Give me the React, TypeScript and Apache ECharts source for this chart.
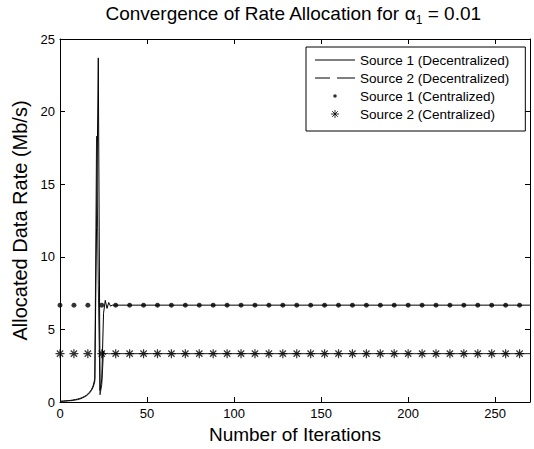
import React, { useEffect, useRef } from "react";
import * as echarts from "echarts";

// ---- data ----
const iterations = [
  0, 1, 2, 3, 4, 5, 6, 7, 8, 9, 10, 11, 12, 13, 14, 15, 16, 17, 18, 19, 20,
  21, 22, 23, 24, 25, 26, 27, 28, 29, 30, 270,
];
const source1Decentralized = [
  0.05, 0.06, 0.07, 0.08, 0.09, 0.1, 0.11, 0.13, 0.15, 0.17, 0.2, 0.23, 0.27,
  0.32, 0.38, 0.45, 0.55, 0.68, 0.85, 1.1, 1.6, 12.0, 23.7, 0.8, 1.6, 6.1, 7.0,
  6.45, 6.85, 6.6, 6.67, 6.67,
];
const source2Decentralized = [
  0.03, 0.04, 0.05, 0.06, 0.07, 0.08, 0.09, 0.1, 0.12, 0.14, 0.16, 0.19, 0.23,
  0.28, 0.34, 0.41, 0.5, 0.62, 0.78, 1.0, 1.4, 18.3, 8.0, 0.5, 1.2, 3.5, 3.25,
  3.36, 3.32, 3.33, 3.33, 3.33,
];
const centralizedIterations = [
  0, 8, 16, 24, 32, 40, 48, 56, 64, 72, 80, 88, 96, 104, 112, 120, 128, 136,
  144, 152, 160, 168, 176, 184, 192, 200, 208, 216, 224, 232, 240, 248, 256, 264,
];
const source1Centralized = 6.67;
const source2Centralized = 3.33;

const seriesNames = [
  "Source 1 (Decentralized)",
  "Source 2 (Decentralized)",
  "Source 1 (Centralized)",
  "Source 2 (Centralized)",
];
const xMax = 270;
const xInterval = 50;
const yMax = 25;
const yInterval = 5;

const FONT = "'Liberation Sans', Arial, Helvetica, sans-serif";
const STAR = "path://M5,0L5,10M0,5L10,5M1.5,1.5L8.5,8.5M1.5,8.5L8.5,1.5";
const DOT_ICON = "path://M0,0M8,8M2.2,4a1.8,1.8 0 1,0 3.6,0a1.8,1.8 0 1,0 -3.6,0Z";
const SOLID_ICON = "path://M0,0L40,0L40,1L0,1Z";
const DASHED_ICON = "path://M0,0L15,0L15,1L0,1ZM22,0L40,0L40,1L22,1Z";

export default function App() {
  const ref = useRef<HTMLDivElement>(null);

  useEffect(() => {
    if (!ref.current) return;
    const chart = echarts.init(ref.current, undefined, { renderer: "svg" });

    const dec1 = iterations.map((x, i) => [x, source1Decentralized[i]]);
    const dec2 = iterations.map((x, i) => [x, source2Decentralized[i]]);
    const cen1 = centralizedIterations.map((x) => [x, source1Centralized]);
    const cen2 = centralizedIterations.map((x) => [x, source2Centralized]);

    const axisLine = { show: true, onZero: false, lineStyle: { color: "#000", width: 1 } };
    const axisTick = { show: true, inside: true, length: 5, lineStyle: { color: "#000", width: 1 } };

    chart.setOption({
      animation: false,
      backgroundColor: "#fff",
      textStyle: { fontFamily: FONT },
      graphic: [
        {
          type: "text",
          x: 293,
          y: 0,
          style: {
            text: "{a|Convergence of Rate Allocation for }{g|α}{s|1}{a| = 0.01}",
            align: "center",
            verticalAlign: "top",
            rich: {
              a: { fontSize: 19, fontFamily: FONT, fill: "#000", lineHeight: 26 },
              g: { fontSize: 19, fontFamily: FONT, fill: "#000", lineHeight: 26 },
              s: { fontSize: 12, fontFamily: FONT, fill: "#000", lineHeight: 12, verticalAlign: "bottom" },
            },
          },
        },
      ],
      grid: { left: 60, right: 4, top: 39, bottom: 45, containLabel: false },
      xAxis: [
        {
          type: "value",
          min: 0,
          max: xMax,
          interval: xInterval,
          position: "bottom",
          axisLine,
          axisTick,
          splitLine: { show: false },
          axisLabel: { color: "#000", fontSize: 13, fontFamily: FONT, margin: 5, showMaxLabel: false },
          name: "Number of Iterations",
          nameLocation: "middle",
          nameGap: 23,
          nameTextStyle: { color: "#000", fontSize: 19, fontFamily: FONT },
        },
        {
          type: "value",
          min: 0,
          max: xMax,
          interval: xInterval,
          position: "top",
          axisLine,
          axisTick,
          splitLine: { show: false },
          axisLabel: { show: false },
        },
      ],
      yAxis: [
        {
          type: "value",
          min: 0,
          max: yMax,
          interval: yInterval,
          position: "left",
          axisLine,
          axisTick,
          splitLine: { show: false },
          axisLabel: { color: "#000", fontSize: 13, fontFamily: FONT, margin: 5 },
          name: "Allocated Data Rate (Mb/s)",
          nameLocation: "middle",
          nameGap: 21,
          nameTextStyle: { color: "#000", fontSize: 20, fontFamily: FONT },
        },
        {
          type: "value",
          min: 0,
          max: yMax,
          interval: yInterval,
          position: "right",
          axisLine,
          axisTick,
          splitLine: { show: false },
          axisLabel: { show: false },
        },
      ],
      legend: {
        left: 306,
        top: 47,
        orient: "vertical",
        backgroundColor: "#fff",
        borderColor: "#000",
        borderWidth: 1,
        borderRadius: 0,
        padding: [4, 16, 8, 9],
        itemWidth: 40,
        itemHeight: 8,
        itemGap: 0,
        textStyle: { fontSize: 13.5, fontFamily: FONT, color: "#000", lineHeight: 18 },
        data: [
          { name: seriesNames[0], icon: SOLID_ICON, itemStyle: { color: "#000", borderWidth: 0 } },
          { name: seriesNames[1], icon: DASHED_ICON, itemStyle: { color: "#000", borderWidth: 0 } },
          { name: seriesNames[2], icon: DOT_ICON, itemStyle: { color: "#000", borderWidth: 0 } },
          { name: seriesNames[3], itemStyle: { borderWidth: 1 } },
        ],
      },
      series: [
        {
          name: seriesNames[0],
          type: "line",
          data: dec1,
          symbol: "none",
          lineStyle: { color: "#000", width: 1 },
          itemStyle: { color: "#000" },
          z: 4,
        },
        {
          name: seriesNames[1],
          type: "line",
          data: dec2,
          symbol: "none",
          lineStyle: { color: "#222", width: 1 },
          itemStyle: { color: "#000" },
          z: 3,
        },
        {
          name: seriesNames[2],
          type: "scatter",
          data: cen1,
          symbol: "circle",
          symbolSize: 5,
          itemStyle: { color: "#000" },
          z: 5,
        },
        {
          name: seriesNames[3],
          type: "scatter",
          data: cen2,
          symbol: STAR,
          symbolSize: 9,
          itemStyle: { color: "#000", borderColor: "#000", borderWidth: 1.2 },
          z: 5,
        },
      ],
    });

    return () => chart.dispose();
  }, []);

  return (
    <div
      ref={ref}
      style={{ position: "fixed", left: 0, top: 0, width: 534, height: 449, background: "#fff" }}
    />
  );
}
